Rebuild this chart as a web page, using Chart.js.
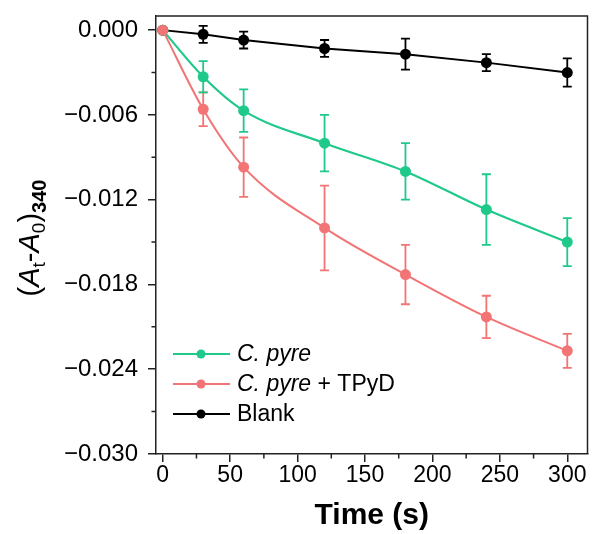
<!DOCTYPE html>
<html>
<head>
<meta charset="utf-8">
<script src="https://cdn.jsdelivr.net/npm/chart.js@4"></script>
<style>
  html, body { margin: 0; padding: 0; background: #fff; }
  #wrap { width: 593px; height: 534px; }
</style>
</head>
<body>
<div id="wrap"><canvas id="kineticsChart" width="593" height="534"></canvas></div>
<script>
// --- data ---
const timePoints = [0, 30, 60, 120, 180, 240, 300];
const cpyreValues = [0, -0.0033, -0.0057, -0.0080, -0.0100, -0.0127, -0.0150];
const cpyreErrors = [0, 0.0011, 0.0015, 0.0020, 0.0020, 0.0025, 0.0017];
const tpydValues = [0, -0.0056, -0.0097, -0.0140, -0.0173, -0.0203, -0.0227];
const tpydErrors = [0, 0.0012, 0.0021, 0.0030, 0.0021, 0.0015, 0.0012];
const blankValues = [0, -0.0003, -0.0007, -0.0013, -0.0017, -0.0023, -0.0030];
const blankErrors = [0, 0.0006, 0.0006, 0.0006, 0.0011, 0.0006, 0.0010];

const xTicks = [0, 50, 100, 150, 200, 250, 300];
const xMinorTicks = [25, 75, 125, 175, 225, 275];
const yTicks = [0, -0.006, -0.012, -0.018, -0.024, -0.030];
const yMinorTicks = [-0.003, -0.009, -0.015, -0.021, -0.027];

const GREEN = '#1fc98a';
const RED = '#f27474';
const BLACK = '#000000';
const AXIS = '#222222';
const FONT = '"Liberation Sans", Arial, sans-serif';

const toPoints = (vals) => timePoints.map((t, i) => ({ x: t, y: vals[i] }));
const fmtY = (v) => (v === 0 ? '0.000' : '\u2212' + Math.abs(v).toFixed(3));

// error bars, drawn under the markers
const errorBarPlugin = {
  id: 'errorBars',
  beforeDatasetsDraw(chart) {
    const ctx = chart.ctx;
    const xs = chart.scales.x, ys = chart.scales.y;
    chart.data.datasets.forEach(ds => {
      if (!ds.errors) return;
      ctx.save();
      ctx.strokeStyle = ds.borderColor;
      ctx.lineWidth = 1.8;
      ds.data.forEach((p, i) => {
        const e = ds.errors[i];
        if (!e) return;
        const px = xs.getPixelForValue(p.x);
        const top = ys.getPixelForValue(p.y + e);
        const bot = ys.getPixelForValue(p.y - e);
        ctx.beginPath();
        ctx.moveTo(px, top); ctx.lineTo(px, bot);
        ctx.moveTo(px - 4.5, top); ctx.lineTo(px + 4.5, top);
        ctx.moveTo(px - 4.5, bot); ctx.lineTo(px + 4.5, bot);
        ctx.stroke();
      });
      ctx.restore();
    });
  }
};

// frame, minor ticks, y title with subscripts, legend
const decorPlugin = {
  id: 'decor',
  afterDraw(chart) {
    const ctx = chart.ctx;
    const a = chart.chartArea;
    const xs = chart.scales.x, ys = chart.scales.y;
    ctx.save();
    ctx.strokeStyle = AXIS;
    ctx.lineWidth = 1.5;
    ctx.beginPath();
    ctx.moveTo(a.left, a.top); ctx.lineTo(a.right, a.top); ctx.lineTo(a.right, a.bottom);
    ctx.stroke();

    ctx.beginPath();
    xMinorTicks.forEach(v => {
      const px = xs.getPixelForValue(v);
      ctx.moveTo(px, a.bottom); ctx.lineTo(px, a.bottom + 4.5);
    });
    yMinorTicks.forEach(v => {
      const py = ys.getPixelForValue(v);
      ctx.moveTo(a.left, py); ctx.lineTo(a.left - 4.5, py);
    });
    ctx.stroke();
    ctx.restore();

    // y-axis title: (A_t-A_0)_340
    ctx.save();
    ctx.translate(30, 238);
    ctx.rotate(-Math.PI / 2);
    ctx.fillStyle = '#000';
    ctx.textBaseline = 'alphabetic';
    const parts = [
      { t: '(', f: '29px ' + FONT, dy: 0 },
      { t: 'A', f: 'italic 29px ' + FONT, dy: 0 },
      { t: 't', f: '19px ' + FONT, dy: 6 },
      { t: '-', f: '29px ' + FONT, dy: 0 },
      { t: 'A', f: 'italic 29px ' + FONT, dy: 0 },
      { t: '0', f: '19px ' + FONT, dy: 6 },
      { t: ')', f: '29px ' + FONT, dy: 0 },
      { t: '340', f: 'bold 20px ' + FONT, dy: 7 }
    ];
    let total = 0;
    parts.forEach(p => { ctx.font = p.f; p.w = ctx.measureText(p.t).width; total += p.w; });
    let cx = -total / 2;
    parts.forEach(p => {
      ctx.font = p.f;
      ctx.fillText(p.t, cx, 9 + p.dy);
      cx += p.w;
    });
    ctx.restore();

    // legend
    const rows = [
      { color: GREEN, texts: [{ t: 'C. pyre', f: 'italic 23px ' + FONT }] },
      { color: RED, texts: [{ t: 'C. pyre', f: 'italic 23px ' + FONT }, { t: ' + TPyD', f: '23px ' + FONT }] },
      { color: BLACK, texts: [{ t: 'Blank', f: '23px ' + FONT }] }
    ];
    ctx.save();
    rows.forEach((r, i) => {
      const y = 354 + i * 30;
      ctx.strokeStyle = r.color;
      ctx.fillStyle = r.color;
      ctx.lineWidth = 2;
      ctx.beginPath();
      ctx.moveTo(173, y); ctx.lineTo(230, y);
      ctx.stroke();
      ctx.beginPath();
      ctx.arc(201, y, 4.5, 0, Math.PI * 2);
      ctx.fill();
      let tx = 237;
      ctx.fillStyle = '#000';
      ctx.textBaseline = 'middle';
      r.texts.forEach(s => {
        ctx.font = s.f;
        ctx.fillText(s.t, tx, y + 1);
        tx += ctx.measureText(s.t).width;
      });
    });
    ctx.restore();
  }
};

const ctx = document.getElementById('kineticsChart').getContext('2d');
new Chart(ctx, {
  type: 'line',
  data: {
    datasets: [
      {
        label: 'C. pyre + TPyD',
        data: toPoints(tpydValues),
        errors: tpydErrors,
        borderColor: RED,
        backgroundColor: RED,
        borderWidth: 2,
        pointRadius: 5.5,
        pointBorderWidth: 0,
        cubicInterpolationMode: 'monotone',
        fill: false
      },
      {
        label: 'C. pyre',
        data: toPoints(cpyreValues),
        errors: cpyreErrors,
        borderColor: GREEN,
        backgroundColor: GREEN,
        borderWidth: 2.2,
        pointRadius: 5.5,
        pointBorderWidth: 0,
        cubicInterpolationMode: 'monotone',
        fill: false
      },
      {
        label: 'Blank',
        data: toPoints(blankValues),
        errors: blankErrors,
        borderColor: BLACK,
        backgroundColor: BLACK,
        borderWidth: 2,
        pointRadius: 5.5,
        pointBorderWidth: 0,
        tension: 0,
        fill: false
      }
    ]
  },
  options: {
    responsive: false,
    animation: false,
    layout: { padding: { top: 16, right: 5, left: 0, bottom: 0 } },
    plugins: {
      legend: { display: false },
      tooltip: { enabled: false }
    },
    scales: {
      x: {
        type: 'linear',
        min: -5,
        max: 315,
        afterBuildTicks: (scale) => { scale.ticks = xTicks.map(v => ({ value: v })); },
        afterFit: (scale) => { scale.height = 80; scale.paddingLeft = 0; scale.paddingRight = 0; },
        border: { display: true, color: AXIS, width: 1.5 },
        grid: { display: true, drawOnChartArea: false, drawTicks: true, tickLength: 8, color: AXIS, lineWidth: 1.5 },
        ticks: { color: '#000', font: { family: FONT, size: 23 }, padding: 0, maxRotation: 0 },
        title: {
          display: true,
          text: 'Time (s)',
          color: '#000',
          font: { family: FONT, size: 30, weight: 'bold' },
          padding: { top: 0, bottom: 0 }
        }
      },
      y: {
        type: 'linear',
        min: -0.030,
        max: 0.001,
        afterBuildTicks: (scale) => { scale.ticks = yTicks.map(v => ({ value: v })); },
        afterFit: (scale) => { scale.width = 156; scale.paddingTop = 0; scale.paddingBottom = 0; },
        border: { display: true, color: AXIS, width: 1.5 },
        grid: { display: true, drawOnChartArea: false, drawTicks: true, tickLength: 8, color: AXIS, lineWidth: 1.5 },
        ticks: {
          color: '#000',
          font: { family: FONT, size: 24 },
          padding: 10,
          callback: (v) => fmtY(v)
        }
      }
    }
  },
  plugins: [errorBarPlugin, decorPlugin]
});
</script>
</body>
</html>
